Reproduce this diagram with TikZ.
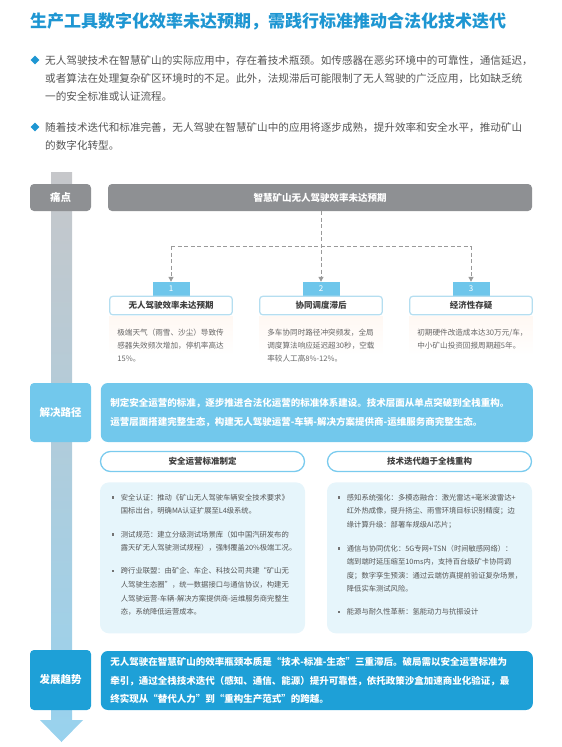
\documentclass[tikz,border=0pt]{standalone}
\usepackage{fontspec}
\setmainfont{Noto Sans CJK SC}
\usepackage{xcolor}
\usetikzlibrary{arrows.meta,positioning,shapes.geometric}

\definecolor{titleBlue}{HTML}{1E96D2}
\definecolor{bodyGray}{HTML}{555555}
\definecolor{descGray}{HTML}{666666}
\definecolor{painGray}{HTML}{8E9093}
\definecolor{solveBlue}{HTML}{72C8EC}
\definecolor{trendBlue}{HTML}{1EA0D7}
\definecolor{tabBlue}{HTML}{6EC6EB}
\definecolor{boxLine}{HTML}{B5DEF0}
\definecolor{pillLine}{HTML}{7ACBEE}
\definecolor{panelBlue}{HTML}{E6F5FB}
\definecolor{barTop}{HTML}{C6C7CA}
\definecolor{barBot}{HTML}{98D2EE}
\definecolor{linkGray}{HTML}{9A9A9A}
\definecolor{glow}{HTML}{FFF8F3}

\tikzset{
  titletext/.style={anchor=west, inner sep=0pt, text=titleBlue, font=\fontsize{17}{20}\selectfont\bfseries},
  diam/.style={diamond, fill=titleBlue, inner sep=0pt, minimum size=9pt},
  introtext/.style={anchor=north west, inner sep=0pt, align=left, text=bodyGray, font=\fontsize{10.6}{18.3}\selectfont},
  sidelabel/.style={rounded corners=4pt, minimum width=61pt, text=white, font=\fontsize{10.5}{12}\selectfont\bfseries},
  headbar/.style={rounded corners=4pt, fill=painGray, minimum width=424pt, minimum height=27pt, text=white, font=\fontsize{9.5}{11}\selectfont\bfseries},
  numtab/.style={fill=tabBlue, minimum width=37pt, minimum height=13.5pt, inner sep=0pt, text=white, font=\fontsize{8}{9}\selectfont},
  dashlink/.style={draw=linkGray, line width=1pt, dash pattern=on 4pt off 2.5pt, -{Triangle[width=5pt,length=5pt]}},
  probbox/.style={draw=boxLine, line width=1.2pt, fill=white, rounded corners=3pt, minimum width=122.5pt, minimum height=18.5pt, inner sep=0pt, text=black!75, font=\fontsize{8.5}{10}\selectfont\bfseries},
  desctext/.style={anchor=north west, inner sep=0pt, align=left, text=descGray, font=\fontsize{7.6}{13.3}\selectfont},
  sumbox/.style={rounded corners=7pt, minimum height=59pt, text width=413pt, inner xsep=9.5pt, align=left, text=white, font=\fontsize{9.5}{18.5}\selectfont\bfseries},
  pill/.style={draw=pillLine, line width=1.3pt, fill=white, rounded corners=10pt, minimum width=204pt, minimum height=20pt, inner sep=0pt, text=black!75, font=\fontsize{8.5}{10}\selectfont\bfseries},
  panel/.style={fill=panelBlue, rounded corners=9pt, minimum width=205pt, minimum height=151pt, inner sep=0pt},
  ptxt/.style={anchor=north west, inner sep=0pt, align=left, text=bodyGray, font=\fontsize{7.3}{13.6}\selectfont},
}

\begin{document}
\begin{tikzpicture}[x=1pt,y=-1pt]
\useasboundingbox (0,0) rectangle (562,747);

% title and intro
\node[titletext] (title) at (30,21) {生产工具数字化效率未达预期，需践行标准推动合法化技术迭代};

\node[diam] (dot1) at (35,60) {};
\node[introtext] (intro1) at (45,55.2) {无人驾驶技术在智慧矿山的实际应用中，存在着技术瓶颈。如传感器在恶劣环境中的可靠性，通信延迟，\\或者算法在处理复杂矿区环境时的不足。此外，法规滞后可能限制了无人驾驶的广泛应用，比如缺乏统\\一的安全标准或认证流程。};
\node[diam] (dot2) at (35,127) {};
\node[introtext] (intro2) at (45,122.2) {随着技术迭代和标准完善，无人驾驶在智慧矿山中的应用将逐步成熟，提升效率和安全水平，推动矿山\\的数字化转型。};

% timeline arrow
\shade[top color=barTop, bottom color=barBot] (51,172) -- (72,172) -- (72,720) -- (83,720) -- (61.5,742) -- (40,720) -- (51,720) -- cycle;

% pain points
\node[sidelabel, fill=painGray, minimum height=27pt] (pain) at (60.5,197.5) {痛点};
\node[headbar] (painhead) at (320,197.5) {智慧矿山无人驾驶效率未达预期};

\node[numtab] (tab1) at (171,288.75) {1};
\node[numtab] (tab2) at (321,288.75) {2};
\node[numtab] (tab3) at (471,288.75) {3};

\coordinate (fork) at (321,246);
\draw[dashlink] (painhead.south -| tab2.north) -- (tab2.north);
\draw[dashlink,-] (tab1.north |- fork) -- (tab3.north |- fork);
\draw[dashlink] (tab1.north |- fork) -- (tab1.north);
\draw[dashlink] (tab3.north |- fork) -- (tab3.north);

\node[probbox, below=0pt of tab1] (prob1) {无人驾驶效率未达预期};
\node[probbox, below=0pt of tab2] (prob2) {协同调度滞后};
\node[probbox, below=0pt of tab3] (prob3) {经济性存疑};
\foreach \b in {prob1,prob2,prob3}
  \shade[top color=glow, bottom color=white] ([yshift=-0.6pt]\b.south west) rectangle ([yshift=-40pt]\b.south east);

\node[desctext] (desc1) at ([xshift=8pt,yshift=-13pt]prob1.south west) {极端天气（雨雪、沙尘）导致传\\感器失效频次增加，停机率高达\\15\%。};
\node[desctext] (desc2) at ([xshift=8pt,yshift=-13pt]prob2.south west) {多车协同时路径冲突频发，全局\\调度算法响应延迟超30秒，空载\\率较人工高8\%-12\%。};
\node[desctext] (desc3) at ([xshift=8pt,yshift=-13pt]prob3.south west) {初期硬件改造成本达30万元/车，\\中小矿山投资回报周期超5年。};

% solution path
\node[sidelabel, fill=solveBlue, minimum height=59pt] (solve) at (60.5,412.5) {解决路径};
\node[sumbox, fill=solveBlue] (solvebox) at (316.85,412.5) {制定安全运营的标准，逐步推进合法化运营的标准体系建设。技术层面从单点突破到全栈重构。\\运营层面搭建完整生态，构建无人驾驶运营-车辆-解决方案提供商-运维服务商完整生态。};

\node[pill] (stdpill) at (202.5,461.5) {安全运营标准制定};
\node[pill] (techpill) at (429.5,461.5) {技术迭代趋于全栈重构};
\node[panel, below=10pt of stdpill] (stdpanel) {};
\node[panel, below=10pt of techpill] (techpanel) {};

\node[ptxt] (std1) at (120.7,493.7) {安全认证：推动《矿山无人驾驶车辆安全技术要求》\\国标出台，明确MA认证扩展至L4级系统。};
\node[ptxt] (std2) at (120.7,530.7) {测试规范：建立分级测试场景库（如中国汽研发布的\\露天矿无人驾驶测试规程），强制覆盖20\%极端工况。};
\node[ptxt] (std3) at (120.7,567.5) {跨行业联盟：由矿企、车企、科技公司共建“矿山无\\人驾驶生态圈”，统一数据接口与通信协议，构建无\\人驾驶运营-车辆-解决方案提供商-运维服务商完整生\\态，系统降低运营成本。};

\node[ptxt] (tec1) at (346.7,493.7) {感知系统强化：多模态融合：激光雷达+毫米波雷达+\\红外热成像，提升扬尘、雨雪环境目标识别精度；边\\缘计算升级：部署车规级AI芯片；};
\node[ptxt] (tec2) at (346.7,544.7) {通信与协同优化：5G专网+TSN（时间敏感网络）：\\端到端时延压缩至10ms内，支持百台级矿卡协同调\\度；数字孪生预演：通过云端仿真提前验证复杂场景，\\降低实车测试风险。};
\node[ptxt] (tec3) at (346.7,608.5) {能源与耐久性革新：氢能动力与抗振设计};

\foreach \p in {std1,std2,std3,tec1,tec2,tec3}
  \fill[black!55] ([xshift=-8pt,yshift=-3.6pt]\p.north west) ++(-1.2,-1.2) rectangle ++(2.4,2.4);

% trend
\node[sidelabel, fill=trendBlue, minimum height=60pt] (trend) at (60.5,680) {发展趋势};
\node[sumbox, fill=trendBlue] (trendbox) at (316.85,680.5) {无人驾驶在智慧矿山的效率瓶颈本质是“技术-标准-生态”三重滞后。破局需以安全运营标准为\\牵引，通过全栈技术迭代（感知、通信、能源）提升可靠性，依托政策沙盒加速商业化验证，最\\终实现从“替代人力”到“重构生产范式”的跨越。};
\end{tikzpicture}
\end{document}
